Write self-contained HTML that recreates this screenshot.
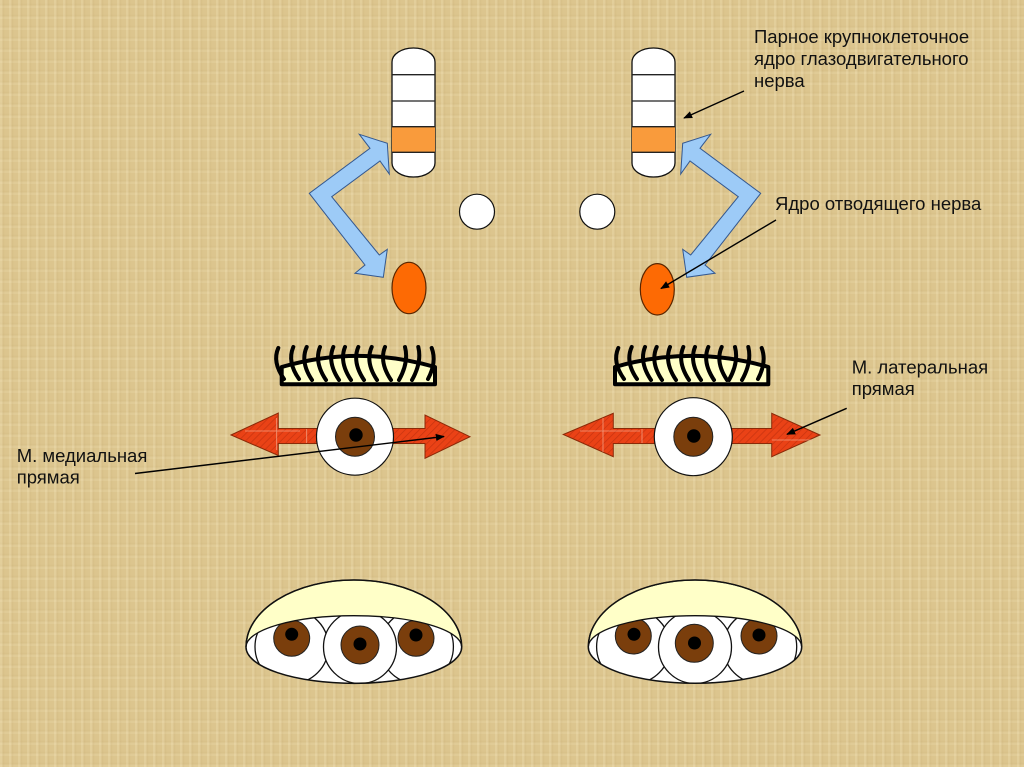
<!DOCTYPE html>
<html><head><meta charset="utf-8">
<style>
html,body{margin:0;padding:0;}
body{width:1024px;height:767px;overflow:hidden;position:relative;
background-color:#dcc58e;
background-image:
repeating-linear-gradient(90deg, rgba(255,245,210,0.18) 0px, rgba(255,245,210,0.18) 2px, rgba(170,140,80,0.10) 3px, rgba(0,0,0,0) 5px, rgba(0,0,0,0) 9px),
repeating-linear-gradient(0deg, rgba(255,245,210,0.12) 0px, rgba(255,245,210,0.12) 2px, rgba(170,140,80,0.08) 3px, rgba(0,0,0,0) 5px, rgba(0,0,0,0) 11px);
}
svg{position:absolute;left:0;top:0;}
text{font-family:"Liberation Sans",Arial,sans-serif;font-size:18.5px;fill:#111;}
</style></head>
<body>
<svg width="1024" height="767" viewBox="0 0 1024 767" xmlns="http://www.w3.org/2000/svg">
<defs>
<pattern id="hatch" width="5" height="5" patternUnits="userSpaceOnUse" patternTransform="rotate(45)">
<rect width="5" height="5" fill="#ea4216"/>
<line x1="0" y1="0" x2="0" y2="5" stroke="#c83410" stroke-width="1.5"/>
</pattern>
<marker id="ah" viewBox="0 0 10 10" refX="9" refY="5" markerWidth="9" markerHeight="9" orient="auto" markerUnits="userSpaceOnUse">
<path d="M0,1 L10,5 L0,9 Z" fill="#000"/>
</marker>
<clipPath id="clipL"><path d="M246,647 A107.8,67 0 0 1 461.7,647 A107.8,36.3 0 0 1 246,647 Z"/></clipPath>
<clipPath id="clipR"><path d="M588.3,647 A106.7,67 0 0 1 801.7,647 A106.7,36.3 0 0 1 588.3,647 Z"/></clipPath>
</defs>

<!-- Left column -->
<rect x="392" y="48" width="43" height="129" rx="21.5" ry="14" fill="#fff" stroke="#111" stroke-width="1.3"/>
<rect x="392" y="126.7" width="43" height="25.6" fill="#f99b3c"/>
<line x1="392" y1="74.7" x2="435" y2="74.7" stroke="#222" stroke-width="1.3"/>
<line x1="392" y1="101" x2="435" y2="101" stroke="#222" stroke-width="1.3"/>
<line x1="392" y1="126.7" x2="435" y2="126.7" stroke="#222" stroke-width="1.3"/>
<line x1="392" y1="152.3" x2="435" y2="152.3" stroke="#222" stroke-width="1.3"/>

<!-- Right column -->
<rect x="632" y="48" width="43" height="129" rx="21.5" ry="14" fill="#fff" stroke="#111" stroke-width="1.3"/>
<rect x="632" y="126.7" width="43" height="25.6" fill="#f99b3c"/>
<line x1="632" y1="74.7" x2="675" y2="74.7" stroke="#222" stroke-width="1.3"/>
<line x1="632" y1="101" x2="675" y2="101" stroke="#222" stroke-width="1.3"/>
<line x1="632" y1="126.7" x2="675" y2="126.7" stroke="#222" stroke-width="1.3"/>
<line x1="632" y1="152.3" x2="675" y2="152.3" stroke="#222" stroke-width="1.3"/>

<!-- white circles -->
<circle cx="477" cy="211.7" r="17.5" fill="#fff" stroke="#111" stroke-width="1.2"/>
<circle cx="597.3" cy="211.7" r="17.5" fill="#fff" stroke="#111" stroke-width="1.2"/>

<!-- orange ellipses -->
<ellipse cx="409" cy="288" rx="17" ry="25.7" fill="#fd6a04" stroke="#5a2600" stroke-width="1.2"/>
<ellipse cx="657.3" cy="289.3" rx="17" ry="25.7" fill="#fd6a04" stroke="#5a2600" stroke-width="1.2"/>

<!-- blue arrows -->
<polygon points="387.3,143.3 389.3,174 380,161 331.7,196.7 379.3,255 387.3,249.3 383.3,277.3 355,273.3 365,265 309.3,193.3 370,148.3 359.3,134.3" fill="#9dcbf7" stroke="#34588f" stroke-width="1"/>
<polygon points="682.7,143.3 680.7,174 690,161 738.3,196.7 690.7,255 682.7,249.3 686.7,277.3 715,273.3 705,265 760.7,193.3 700,148.3 710.7,134.3" fill="#9dcbf7" stroke="#34588f" stroke-width="1"/>

<!-- left eyelid with lashes -->
<g stroke="#000" stroke-width="4" fill="none" stroke-linecap="round">
<path d="M281.7,384.3 L281.7,367 Q358.3,344.7 435,367 L435,384.3 Z" fill="#ffffc8" stroke-linejoin="round"/>
<path d="M278.3,348 Q272,362 284,379"/>
<path d="M293.3,347 Q287,362 299,379"/>
<path d="M306.7,347 Q300,362 312,380"/>
<path d="M320,347 Q314,362 326,380"/>
<path d="M333.3,347 Q327,362 339,380"/>
<path d="M345,347 Q339,362 351,380"/>
<path d="M358.3,347 Q352,362 364,380"/>
<path d="M371.7,347 Q365,362 377,380"/>
<path d="M385,347 Q379,362 391,380"/>
<path d="M405,347 Q409,362 399,380"/>
<path d="M418.3,347 Q422,362 412,380"/>
<path d="M431.7,348 Q437,362 428,379"/>
</g>

<!-- right eyelid with lashes -->
<g stroke="#000" stroke-width="4" fill="none" stroke-linecap="round">
<path d="M615,384.3 L615,367 Q691.7,344.7 768.3,367 L768.3,384.3 Z" fill="#ffffc8" stroke-linejoin="round"/>
<path d="M618.3,348 Q612,362 624,379"/>
<path d="M631.7,347 Q625,362 637,379"/>
<path d="M645,347 Q639,362 651,380"/>
<path d="M656.7,347 Q650,362 662,380"/>
<path d="M670,347 Q664,362 676,380"/>
<path d="M683.3,347 Q677,362 689,380"/>
<path d="M695,347 Q689,362 701,380"/>
<path d="M708.3,347 Q702,362 714,380"/>
<path d="M721.7,347 Q715,362 727,380"/>
<path d="M735,347 Q739,362 729,380"/>
<path d="M748.3,347 Q752,362 742,380"/>
<path d="M761.7,348 Q767,362 758,379"/>
</g>

<!-- red double arrows -->
<polygon points="231,435 278.3,413 278.3,428.5 425,428.5 425,415 470,436.7 425,458.3 425,443.5 278.3,443.5 278.3,455.5" fill="url(#hatch)" stroke="#8a2a08" stroke-width="1"/>
<g stroke="#f7b59a" stroke-width="0.8" opacity="0.8">
<line x1="276.7" y1="418" x2="276.7" y2="450"/><line x1="306.7" y1="429" x2="306.7" y2="443"/>
<line x1="245" y1="431" x2="300" y2="431"/>
</g>
<polygon points="563.3,434.5 613.3,413.3 613.3,428.5 771.7,428.5 771.7,413.3 820,435 771.7,456.7 771.7,443.5 613.3,443.5 613.3,456.7" fill="url(#hatch)" stroke="#8a2a08" stroke-width="1"/>
<g stroke="#f7b59a" stroke-width="0.8" opacity="0.8">
<line x1="603" y1="418" x2="603" y2="452"/><line x1="642" y1="429" x2="642" y2="443"/>
<line x1="580" y1="431" x2="640" y2="431"/>
<line x1="772" y1="440" x2="812" y2="440"/>
</g>

<!-- eyes -->
<circle cx="355" cy="436.7" r="38.5" fill="#fff" stroke="#111" stroke-width="1.2"/>
<circle cx="355" cy="436.7" r="19.5" fill="#7a3e0c" stroke="#222" stroke-width="1"/>
<circle cx="356" cy="435" r="6.7" fill="#000"/>
<circle cx="693.3" cy="436.7" r="39" fill="#fff" stroke="#111" stroke-width="1.2"/>
<circle cx="693.3" cy="436.7" r="19.5" fill="#7a3e0c" stroke="#222" stroke-width="1"/>
<circle cx="693.8" cy="436" r="6.7" fill="#000"/>

<!-- bottom left eyes -->
<g>
<path d="M246,647 A107.8,67 0 0 1 461.7,647 A107.8,36.3 0 0 1 246,647 Z" fill="#fff"/>
<g clip-path="url(#clipL)" stroke="#111" stroke-width="1.3">
<circle cx="291.7" cy="646.7" r="36.7" fill="#fff"/>
<circle cx="416.7" cy="646.7" r="36.7" fill="#fff"/>
<circle cx="360" cy="647" r="36.5" fill="#fff"/>
</g>
<circle cx="291.7" cy="638.3" r="18" fill="#7a3e0c" stroke="#222" stroke-width="1"/>
<circle cx="291.7" cy="634.3" r="6.5" fill="#000"/>
<circle cx="360" cy="645" r="19" fill="#7a3e0c" stroke="#222" stroke-width="1"/>
<circle cx="360" cy="644" r="6.5" fill="#000"/>
<circle cx="416" cy="638.3" r="18" fill="#7a3e0c" stroke="#222" stroke-width="1"/>
<circle cx="416" cy="635" r="6.5" fill="#000"/>
<path d="M246,647 A107.8,67 0 0 1 461.7,647 A107.8,31.3 0 0 0 246,647 Z" fill="#ffffc8" stroke="#111" stroke-width="1.3"/>
<path d="M246,647 A107.8,67 0 0 1 461.7,647 A107.8,36.3 0 0 1 246,647 Z" fill="none" stroke="#111" stroke-width="1.5"/>
</g>

<!-- bottom right eyes -->
<g>
<path d="M588.3,647 A106.7,67 0 0 1 801.7,647 A106.7,36.3 0 0 1 588.3,647 Z" fill="#fff"/>
<g clip-path="url(#clipR)" stroke="#111" stroke-width="1.3">
<circle cx="633.3" cy="646.7" r="36.7" fill="#fff"/>
<circle cx="760" cy="646.7" r="36.7" fill="#fff"/>
<circle cx="695" cy="647" r="36.5" fill="#fff"/>
</g>
<circle cx="633.3" cy="636" r="18" fill="#7a3e0c" stroke="#222" stroke-width="1"/>
<circle cx="634" cy="634.3" r="6.5" fill="#000"/>
<circle cx="694.3" cy="643.3" r="19" fill="#7a3e0c" stroke="#222" stroke-width="1"/>
<circle cx="694.5" cy="643" r="6.5" fill="#000"/>
<circle cx="759" cy="636" r="18" fill="#7a3e0c" stroke="#222" stroke-width="1"/>
<circle cx="759" cy="635" r="6.5" fill="#000"/>
<path d="M588.3,647 A106.7,67 0 0 1 801.7,647 A106.7,31.3 0 0 0 588.3,647 Z" fill="#ffffc8" stroke="#111" stroke-width="1.3"/>
<path d="M588.3,647 A106.7,67 0 0 1 801.7,647 A106.7,36.3 0 0 1 588.3,647 Z" fill="none" stroke="#111" stroke-width="1.5"/>
</g>

<!-- pointer lines -->
<g stroke="#000" stroke-width="1.4" fill="none">
<line x1="744" y1="91" x2="684" y2="118" marker-end="url(#ah)"/>
<line x1="776" y1="220" x2="661" y2="288.5" marker-end="url(#ah)"/>
<line x1="846.7" y1="408.3" x2="787" y2="434.3" marker-end="url(#ah)"/>
<line x1="135" y1="473.5" x2="444" y2="436.5" marker-end="url(#ah)"/>
</g>

<!-- labels -->
<text x="754" y="43">Парное крупноклеточное</text>
<text x="754" y="65">ядро глазодвигательного</text>
<text x="754" y="87">нерва</text>
<text x="775" y="210">Ядро отводящего нерва</text>
<text x="851.7" y="373.5">М. латеральная</text>
<text x="851.7" y="395">прямая</text>
<text x="16.7" y="462">М. медиальная</text>
<text x="16.7" y="483.5">прямая</text>
</svg>
</body></html>
